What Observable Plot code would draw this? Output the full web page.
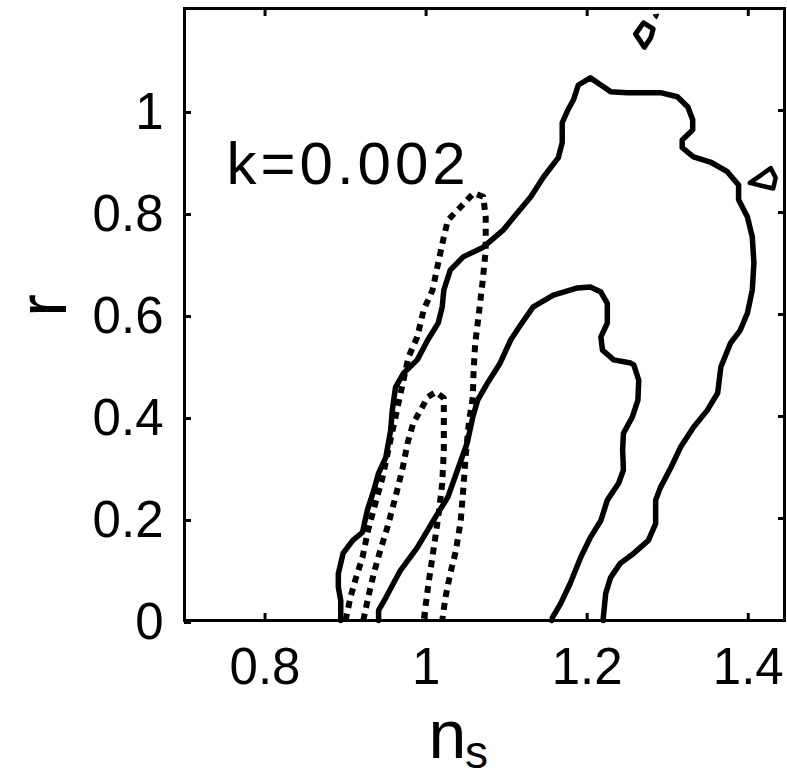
<!DOCTYPE html>
<html>
<head>
<meta charset="utf-8">
<script src="https://cdn.jsdelivr.net/npm/d3@7"></script>
<script src="https://cdn.jsdelivr.net/npm/@observablehq/plot@0.6"></script>
<style>
  html, body { margin: 0; padding: 0; background: #fff; }
  #chart svg { display: block; }
</style>
</head>
<body>
<div id="chart"></div>
<script>
// ---- data: contour curves in (n_s, r) ----
const xTicks = [0.8, 1, 1.2, 1.4];
const yTicks = [0, 0.2, 0.4, 0.6, 0.8, 1];
const panelLabel = "k=0.002";
const xLabelMain = "n";
const xLabelSub = "s";
const yLabel = "r";

// outer solid contour
const solidOuter = [
  [0.894,0],[0.894,0.039],[0.891,0.065],[0.891,0.092],[0.897,0.132],[0.909,0.157],
  [0.921,0.173],[0.927,0.216],[0.935,0.255],[0.941,0.289],[0.950,0.320],[0.956,0.373],
  [0.958,0.412],[0.962,0.457],[0.972,0.485],[0.989,0.511],[1.002,0.550],[1.015,0.583],
  [1.020,0.615],[1.022,0.648],[1.030,0.687],[1.046,0.713],[1.071,0.732],[1.096,0.766],
  [1.109,0.791],[1.130,0.831],[1.146,0.870],[1.164,0.907],[1.169,0.937],[1.169,0.976],
  [1.176,1.001],[1.183,1.021],[1.189,1.050],[1.204,1.064],[1.217,1.050],[1.229,1.037],
  [1.250,1.035],[1.291,1.035],[1.312,1.027],[1.325,1.007],[1.331,0.982],[1.331,0.962],
  [1.318,0.942],[1.318,0.927],[1.332,0.909],[1.353,0.899],[1.374,0.880],[1.388,0.854],
  [1.388,0.825],[1.399,0.791],[1.405,0.752],[1.407,0.701],[1.405,0.648],[1.399,0.603],
  [1.390,0.569],[1.378,0.544],[1.366,0.497],[1.362,0.446],[1.349,0.412],[1.332,0.379],
  [1.316,0.340],[1.304,0.300],[1.291,0.261],[1.285,0.236],[1.285,0.190],[1.276,0.157],
  [1.258,0.132],[1.241,0.112],[1.229,0.084],[1.223,0.053],[1.220,0.006],[1.220,0]
];

// inner solid contour
const solidInner = [
  [0.941,0],[0.941,0.020],[0.950,0.045],[0.968,0.098],[0.989,0.143],[1.009,0.196],
  [1.027,0.242],[1.039,0.295],[1.051,0.348],[1.058,0.399],[1.064,0.432],[1.076,0.465],
  [1.092,0.505],[1.105,0.550],[1.117,0.579],[1.133,0.615],[1.158,0.638],[1.188,0.652],
  [1.204,0.654],[1.217,0.644],[1.225,0.622],[1.225,0.583],[1.217,0.556],[1.219,0.530],
  [1.233,0.511],[1.254,0.505],[1.258,0.501],[1.264,0.471],[1.263,0.432],[1.256,0.399],
  [1.245,0.367],[1.244,0.334],[1.245,0.295],[1.239,0.269],[1.225,0.236],[1.217,0.196],
  [1.204,0.163],[1.192,0.124],[1.179,0.073],[1.167,0.033],[1.157,0.006],[1.156,0]
];

// small islands of the outer solid level
const islandTop = [[1.270,1.172],[1.282,1.160],[1.279,1.143],[1.271,1.124],[1.260,1.150],[1.270,1.172]];
const islandSpeck = [[1.283,1.187],[1.288,1.188],[1.286,1.181],[1.283,1.187]];
const islandRight = [[1.402,0.858],[1.428,0.887],[1.434,0.868],[1.431,0.847],[1.402,0.858]];

// outer dotted contour
const dottedOuter = [
  [0.900,0],[0.906,0.045],[0.912,0.079],[0.921,0.124],[0.928,0.177],[0.937,0.230],
  [0.946,0.281],[0.953,0.334],[0.962,0.399],[0.971,0.465],[0.978,0.516],[0.989,0.556],
  [0.997,0.609],[1.008,0.648],[1.015,0.701],[1.022,0.752],[1.027,0.785],[1.043,0.811],
  [1.059,0.838],[1.071,0.831],[1.074,0.791],[1.074,0.726],[1.070,0.662],[1.065,0.595],
  [1.061,0.544],[1.059,0.491],[1.058,0.438],[1.053,0.387],[1.049,0.320],[1.046,0.255],
  [1.043,0.196],[1.037,0.137],[1.030,0.092],[1.024,0.045],[1.020,0]
];

// inner dotted contour
const dottedInner = [
  [0.922,0],[0.928,0.045],[0.935,0.092],[0.943,0.137],[0.952,0.183],[0.962,0.242],
  [0.971,0.300],[0.977,0.348],[0.984,0.387],[0.993,0.412],[1.002,0.438],[1.012,0.448],
  [1.022,0.436],[1.022,0.399],[1.022,0.334],[1.020,0.269],[1.015,0.202],[1.009,0.137],
  [1.003,0.073],[0.997,0]
];

const X = d => d[0], Y = d => d[1];
const solidStyle = {x: X, y: Y, stroke: "black", strokeWidth: 5.5, strokeLinejoin: "round", strokeLinecap: "round"};
const dotStyle = {x: X, y: Y, stroke: "black", strokeWidth: 6, strokeDasharray: "7,6", strokeLinecap: "butt"};

const chart = Plot.plot({
  width: 787,
  height: 778,
  marginLeft: 184,
  marginRight: 3,
  marginTop: 8,
  marginBottom: 158,
  style: {fontFamily: "'Liberation Sans', Arial, sans-serif", background: "white", color: "black"},
  x: {domain: [0.7, 1.445]},
  y: {domain: [0, 1.2]},
  marks: [
    Plot.line(solidOuter, solidStyle),
    Plot.line(solidInner, solidStyle),
    Plot.line(islandTop, {...solidStyle, strokeWidth: 5}),
    Plot.line(islandSpeck, {...solidStyle, strokeWidth: 2}),
    Plot.line(islandRight, {...solidStyle, strokeWidth: 4.5}),
    Plot.line(dottedOuter, dotStyle),
    Plot.line(dottedInner, dotStyle),
    Plot.frame({stroke: "black", strokeWidth: 3}),
    Plot.axisX(xTicks, {anchor: "bottom", tickSize: -7, strokeWidth: 3, tickPadding: 34.5, fontSize: 51, tickFormat: d => String(d), label: null}),
    Plot.axisX(xTicks, {anchor: "top", tickSize: -7, strokeWidth: 3, text: null, label: null}),
    Plot.axisY(yTicks, {anchor: "left", tickSize: -7, strokeWidth: 3, tickPadding: 28, fontSize: 51, dy: 2, tickFormat: d => String(d), label: null}),
    Plot.axisY(yTicks, {anchor: "right", tickSize: -7, strokeWidth: 3, text: null, label: null}),
    Plot.text([panelLabel], {text: d => d, frameAnchor: "top-left", dx: 42, dy: 175, textAnchor: "start", lineAnchor: "bottom", fontSize: 60}),
    Plot.text([yLabel], {text: d => d, frameAnchor: "left", dx: -140, dy: -9, rotate: -90, textAnchor: "middle", lineAnchor: "middle", fontSize: 68}),
    Plot.text([xLabelMain], {text: d => d, frameAnchor: "bottom", dx: -37, dy: 137, textAnchor: "middle", lineAnchor: "bottom", fontSize: 68}),
    Plot.text([xLabelSub], {text: d => d, frameAnchor: "bottom", dx: -8, dy: 147, textAnchor: "middle", lineAnchor: "bottom", fontSize: 46})
  ]
});

document.getElementById("chart").appendChild(chart);
d3.select(chart).selectAll("text").filter(function() { return this.textContent === panelLabel; })
  .attr("letter-spacing", "4px");
</script>
</body>
</html>
